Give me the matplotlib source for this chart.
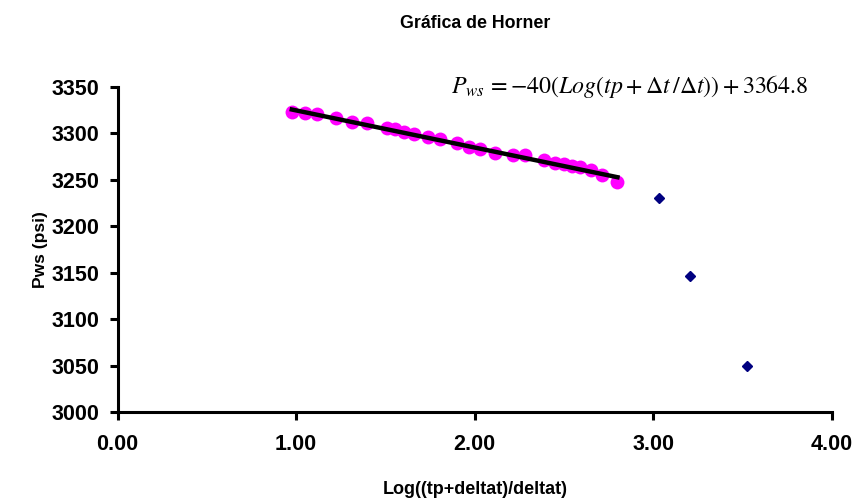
import matplotlib
matplotlib.use("Agg")
import matplotlib.pyplot as plt
import numpy as np

# Data
log_t = [0.976, 1.050, 1.116, 1.224, 1.315, 1.397, 1.508, 1.554, 1.606, 1.662,
         1.737, 1.806, 1.900, 1.970, 2.030, 2.114, 2.213, 2.282, 2.385, 2.450,
         2.497, 2.544, 2.590, 2.650, 2.712, 2.799,
         3.029, 3.206, 3.524]
pws = [3323.4, 3321.7, 3320.6, 3316.9, 3312.6, 3310.9, 3306.2, 3304.8, 3301.9, 3299.4,
       3296.5, 3293.7, 3289.4, 3285.7, 3282.9, 3279.2, 3276.8, 3276.8, 3271.4, 3267.8,
       3266.8, 3264.9, 3264.2, 3260.6, 3255.2, 3248.0,
       3230.0, 3147.0, 3049.5]
n_fit = 26
slope = -40.0
intercept = 3364.8

x_ticks = [0.0, 1.0, 2.0, 3.0, 4.0]
y_ticks = [3000, 3050, 3100, 3150, 3200, 3250, 3300, 3350]

plt.rcParams['font.family'] = ['Liberation Sans', 'DejaVu Sans']
plt.rcParams['mathtext.fontset'] = 'stix'

fig = plt.figure(figsize=(8.63, 5.04), dpi=100)
ax = fig.add_axes([117.5/863, 1-412/504, (832-117.5)/863, (412-87)/504])

x = np.array(log_t)
y = np.array(pws)
ax.plot(x, y, linestyle='none', marker='D', markersize=5.5, color='#000080', zorder=2)
ax.plot(x[:n_fit], y[:n_fit], linestyle='none', marker='o', markersize=10,
        color='#FF00FF', markeredgewidth=0, zorder=3)
xf = np.array([x[:n_fit].min(), x[:n_fit].max()])
ax.plot(xf, slope*xf + intercept, color='black', linewidth=3.2, zorder=4)

ax.set_xlim(0, 4)
ax.set_ylim(3000, 3350)
ax.set_xticks(x_ticks)
ax.set_yticks(y_ticks)
ax.set_xticklabels([f"{v:.2f}" for v in x_ticks])
ax.set_yticklabels([f"{v:d}" for v in y_ticks])
for s in ['top', 'right']:
    ax.spines[s].set_visible(False)
for s in ['left', 'bottom']:
    ax.spines[s].set_linewidth(2.2)
ax.tick_params(axis='both', direction='out', length=6, width=2.2, labelsize=15.5)
for lbl in ax.get_xticklabels() + ax.get_yticklabels():
    lbl.set_fontweight('bold')
ax.tick_params(axis='x', pad=10)
ax.tick_params(axis='y', pad=7)

ax.set_xlabel("Log((tp+deltat)/deltat)", fontsize=13, fontweight='bold', va='center')
ax.xaxis.set_label_coords(0.5, (412-490)/325)
ax.set_ylabel("Pws (psi)", fontsize=12.5, fontweight='bold', va='center')
ax.yaxis.set_label_coords((40-117.5)/714.5, 0.5)
fig.text(475/863, 1-23/504, "Gráfica de Horner", ha='center', va='center',
         fontsize=12.8, fontweight='bold')

ax.text(0.467, 1.0,
        r"$P_{ws}\,=-40\left(Log\left(tp+\Delta t\,/\Delta t\right)\right)+\mathrm{3364.8}$",
        transform=ax.transAxes, ha='left', va='center', fontsize=17.2)

fig.savefig("out.png", dpi=100)
